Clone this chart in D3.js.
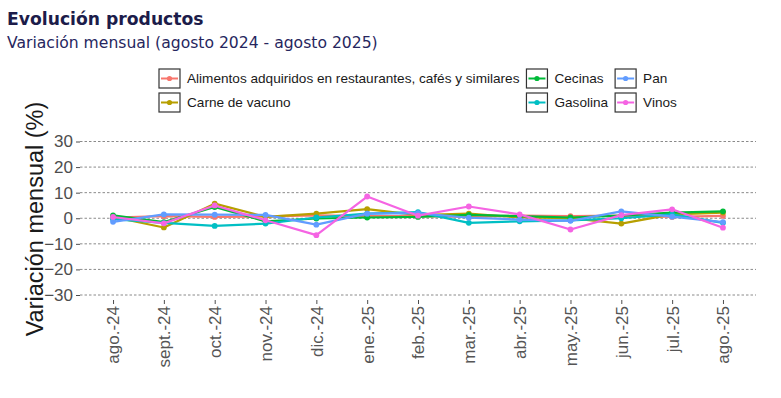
<!DOCTYPE html>
<html>
<head>
<meta charset="utf-8">
<script src="https://cdn.jsdelivr.net/npm/d3@7"></script>
<style>
  body { margin: 0; background: #fff; }
  #chart { width: 781px; height: 398px; }
  text { font-family: "Liberation Sans", Arial, sans-serif; }
</style>
</head>
<body>
<div id="chart"></div>
<script>
// data
const months = ["ago.-24", "sept.-24", "oct.-24", "nov.-24", "dic.-24", "ene.-25", "feb.-25",
    "mar.-25", "abr.-25", "may.-25", "jun.-25", "jul.-25", "ago.-25"];

const alimentos = [0.3, 0.8, 0.5, 0.7, 1.1, 0.8, 0.8, 0.5, 1.0, 0.8, 1.0, 0.5, 0.9];
const carne = [0.5, -3.6, 5.7, 0.5, 1.8, 3.6, 1.2, 1.8, 0.3, 0.0, -2.1, 1.5, 2.2];
const cecinas = [1.1, -1.5, 4.4, -1.2, -0.1, 0.3, 0.5, 1.3, 0.8, 0.3, 1.0, 2.2, 2.7];
const gasolina = [-0.4, -1.8, -3.0, -2.1, 0.3, 1.8, 2.4, -1.8, -1.2, -0.8, 0.0, 1.5, -1.8];
const pan = [-1.4, 1.5, 1.4, 1.3, -2.5, 1.8, 2.0, 0.2, -0.5, -1.0, 2.7, 0.6, -1.5];
const vinos = [0.5, -2.0, 5.0, -0.8, -6.6, 8.5, 1.0, 4.6, 1.5, -4.4, 1.2, 3.5, -3.7];

const seriesNames = ["Alimentos adquiridos en restaurantes, cafés y similares", "Carne de vacuno",
    "Cecinas", "Gasolina", "Pan", "Vinos"];
const seriesValues = [alimentos, carne, cecinas, gasolina, pan, vinos];
const colors = ["#F8766D", "#B79F00", "#00BA38", "#00BFC4", "#619CFF", "#F564E3"];
const yTicks = [-30, -20, -10, 0, 10, 20, 30];

const W = 781, H = 398;

let svg = d3.select("#chart")
    .append("svg")
    .attr("width", W)
    .attr("height", H);

// title and subtitle
svg.append("text")
    .attr("x", 7).attr("y", 25)
    .style("font-family", "'DejaVu Sans', sans-serif")
    .style("font-weight", "bold")
    .style("font-size", "17.2px")
    .attr("fill", "#1c1c4a")
    .text("Evolución productos");

svg.append("text")
    .attr("x", 7).attr("y", 48)
    .style("font-family", "'DejaVu Sans', sans-serif")
    .style("font-size", "15.6px")
    .attr("fill", "#26265e")
    .text("Variación mensual (agosto 2024 - agosto 2025)");

// scales
let x = d3.scalePoint()
    .domain(months)
    .range([80, 756])
    .padding(0.65);

let y = d3.scaleLinear()
    .domain([-30, 30])
    .range([295, 141.5]);

// grid lines
svg.append("g")
    .selectAll("line")
    .data(yTicks)
    .enter()
    .append("line")
    .attr("x1", 80).attr("x2", 756)
    .attr("y1", d => y(d)).attr("y2", d => y(d))
    .attr("stroke", "#8a8a8a")
    .attr("stroke-width", 1)
    .attr("stroke-dasharray", "2.5,2");

// y axis
let yAxis = svg.append("g")
    .attr("transform", "translate(80,0)")
    .call(d3.axisLeft(y).tickValues(yTicks).tickSize(4).tickPadding(3));
yAxis.select(".domain").remove();
yAxis.selectAll(".tick line").attr("stroke", "#4d4d4d");
yAxis.selectAll(".tick text")
    .attr("fill", "#4d4d4d")
    .style("font-size", "17px")
    .style("font-family", "'Liberation Sans', Arial, sans-serif");

// x axis
let xAxis = svg.append("g")
    .attr("transform", "translate(0,300)")
    .call(d3.axisBottom(x).tickSize(4).tickPadding(3));
xAxis.select(".domain").remove();
xAxis.selectAll(".tick line").attr("stroke", "#4d4d4d");
xAxis.selectAll(".tick text")
    .attr("fill", "#555")
    .style("font-size", "17px")
    .style("font-family", "'Liberation Sans', Arial, sans-serif")
    .attr("transform", "rotate(-90)")
    .attr("text-anchor", "end")
    .attr("x", -6)
    .attr("y", 0)
    .attr("dy", "0.35em");

// y axis title
svg.append("text")
    .attr("transform", "translate(43,219) rotate(-90)")
    .attr("text-anchor", "middle")
    .style("font-size", "23.5px")
    .attr("fill", "#1a1a1a")
    .text("Variación mensual (%)");

// lines and points
let line = d3.line()
    .x((d, i) => x(months[i]))
    .y(d => y(d));

seriesValues.forEach((vals, s) => {
    let g = svg.append("g");
    g.append("path")
        .datum(vals)
        .attr("fill", "none")
        .attr("stroke", colors[s])
        .attr("stroke-width", 2.2)
        .attr("stroke-linejoin", "round")
        .attr("d", line);
    g.selectAll("circle")
        .data(vals)
        .enter()
        .append("circle")
        .attr("cx", (d, i) => x(months[i]))
        .attr("cy", d => y(d))
        .attr("r", 2.9)
        .attr("fill", colors[s]);
});

// legend: three columns, two rows
let legend = svg.append("g");
let colOrder = [[0, 1], [2, 3], [4, 5]];
let lx = 159;
colOrder.forEach(col => {
    let maxW = 0;
    col.forEach((s, r) => {
        let ky = 69 + r * 24;
        let item = legend.append("g").attr("transform", `translate(${lx},${ky})`);
        item.append("rect")
            .attr("width", 21).attr("height", 19)
            .attr("fill", "#fff")
            .attr("stroke", "#333")
            .attr("stroke-width", 1.2);
        item.append("line")
            .attr("x1", 2).attr("x2", 19)
            .attr("y1", 9.5).attr("y2", 9.5)
            .attr("stroke", colors[s])
            .attr("stroke-width", 2);
        item.append("circle")
            .attr("cx", 10.5).attr("cy", 9.5).attr("r", 2.6)
            .attr("fill", colors[s]);
        let t = item.append("text")
            .attr("x", 28).attr("y", 9.5)
            .attr("dy", "0.35em")
            .style("font-size", "13.6px")
            .attr("fill", "#1a1a1a")
            .text(seriesNames[s]);
        maxW = Math.max(maxW, t.node().getComputedTextLength());
    });
    lx += 28 + maxW + 7;
});
</script>
</body>
</html>
